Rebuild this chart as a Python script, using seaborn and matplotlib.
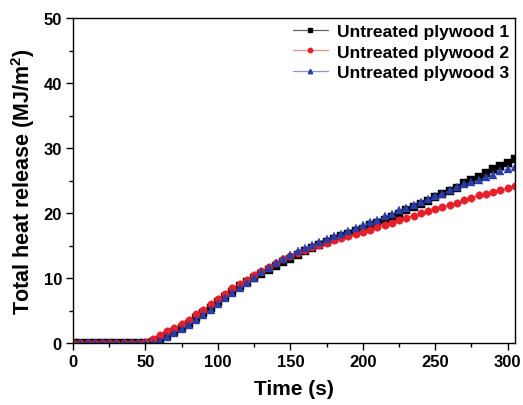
import numpy as np
import pandas as pd
import matplotlib
matplotlib.use("Agg")
import matplotlib.pyplot as plt
import seaborn as sns
from matplotlib.lines import Line2D
from matplotlib.ticker import MultipleLocator

time_s = list(range(0, 310, 5))

plywood_1 = [0, 0, 0, 0, 0, 0, 0, 0, 0, 0, 0, 0.1,
             0.5, 1.1, 1.7, 2.3, 3.0, 3.8, 4.6, 5.4, 6.3, 7.1, 7.9, 8.7, 9.4,
             10.0, 10.6, 11.2, 11.8, 12.4, 13.0, 13.6, 14.1, 14.6, 15.1, 15.5,
             16.0, 16.4, 16.8, 17.2, 17.6, 18.1, 18.5, 19.0, 19.4, 19.9, 20.4,
             20.9, 21.4, 21.9, 22.4, 22.9, 23.4, 23.9, 24.6, 25.1, 25.6, 26.2,
             26.7, 27.2, 27.7, 28.3]

plywood_2 = [0, 0, 0, 0, 0, 0, 0, 0, 0, 0, 0.1, 0.6,
             1.2, 1.8, 2.3, 2.9, 3.6, 4.4, 5.1, 6.0, 6.8, 7.6, 8.4, 9.1, 9.7,
             10.4, 11.1, 11.7, 12.3, 12.9, 13.4, 13.9, 14.3, 14.7, 15.1, 15.4,
             15.8, 16.1, 16.4, 16.8, 17.1, 17.4, 17.8, 18.2, 18.5, 19.0, 19.3,
             19.6, 20.0, 20.3, 20.6, 21.0, 21.3, 21.6, 22.0, 22.3, 22.7, 22.9,
             23.2, 23.5, 23.8, 24.2]

plywood_3 = [0, 0, 0, 0, 0, 0, 0, 0, 0, 0, 0, 0,
             0.35, 1.0, 1.5, 2.15, 2.8, 3.5, 4.3, 5.1, 6.0, 6.9, 7.7, 8.5, 9.3,
             10.0, 10.9, 11.6, 12.3, 12.9, 13.5, 14.2, 14.6, 15.1, 15.6, 16.0,
             16.5, 16.8, 17.3, 17.7, 18.2, 18.6, 19.0, 19.5, 19.8, 20.4, 20.8,
             21.3, 21.7, 22.2, 22.6, 23.0, 23.5, 24.0, 24.4, 24.7, 25.1, 25.6,
             25.9, 26.4, 26.8, 27.1]

series_names = ["Untreated plywood 1", "Untreated plywood 2", "Untreated plywood 3"]
series_colors = ["#000000", "#e5202a", "#2a3da6"]
legend_line_colors = ["#606060", "#f08a8a", "#8a96d6"]
series_markers = ["s", "o", "^"]

df = pd.concat([
    pd.DataFrame({"Time": time_s, "THR": vals, "Sample": name})
    for name, vals in zip(series_names, [plywood_1, plywood_2, plywood_3])
], ignore_index=True)

sns.set_style("ticks")
plt.rcParams["font.family"] = ["Liberation Sans", "DejaVu Sans"]
plt.rcParams["font.weight"] = "bold"
plt.rcParams["text.color"] = "black"
plt.rcParams["axes.labelcolor"] = "black"
plt.rcParams["axes.edgecolor"] = "black"
plt.rcParams["xtick.color"] = "black"
plt.rcParams["ytick.color"] = "black"
plt.rcParams["mathtext.fontset"] = "custom"
plt.rcParams["mathtext.bf"] = "Liberation Sans:bold"
plt.rcParams["mathtext.rm"] = "Liberation Sans:bold"
plt.rcParams["mathtext.default"] = "bf"

fig = plt.figure(figsize=(5.23, 4.06), dpi=100)
ax = fig.add_axes([0.1396, 0.1527, 0.845, 0.8003])

sns.lineplot(data=df, x="Time", y="THR", hue="Sample", style="Sample",
             hue_order=series_names, style_order=series_names,
             palette=series_colors, markers=series_markers, dashes=False,
             linewidth=0.5, markersize=5.4, ax=ax, legend=False)

# solid markers: edge in the same colour as the face
for line, col in zip(ax.get_lines(), series_colors):
    line.set_markeredgecolor(col)
    line.set_markerfacecolor(col)
    line.set_markeredgewidth(0.3)

ax.set_xlim(0, 305)
ax.set_ylim(0, 50)
ax.xaxis.set_major_locator(MultipleLocator(50))
ax.xaxis.set_minor_locator(MultipleLocator(25))
ax.yaxis.set_major_locator(MultipleLocator(10))
ax.yaxis.set_minor_locator(MultipleLocator(5))
ax.tick_params(which="major", direction="out", length=5, width=1, labelsize=12, pad=3,
               colors="black")
ax.tick_params(which="minor", direction="out", length=3, width=1, colors="black")
for lbl in ax.get_xticklabels() + ax.get_yticklabels():
    lbl.set_fontweight("bold")
for sp in ax.spines.values():
    sp.set_visible(True)
    sp.set_linewidth(1.0)
    sp.set_color("black")

ax.set_xlabel("Time (s)", fontsize=15, fontweight="bold", labelpad=7, color="black")
ax.set_ylabel("Total heat release (MJ/m$^2$)", fontsize=15.5, fontweight="bold",
              labelpad=5, color="black")

handles = [Line2D([], [], color=lc, lw=0.9, marker=m, markersize=3.2,
                  markerfacecolor=c, markeredgecolor=c)
           for lc, c, m in zip(legend_line_colors, series_colors, series_markers)]
leg = ax.legend(handles, series_names, loc="upper right", frameon=False, fontsize=12.6,
                handlelength=2.0, handletextpad=0.5, labelspacing=0.28,
                borderaxespad=0.0, borderpad=0.35)
for t in leg.get_texts():
    t.set_fontweight("bold")
    t.set_color("black")

fig.savefig("out.png", dpi=100)
